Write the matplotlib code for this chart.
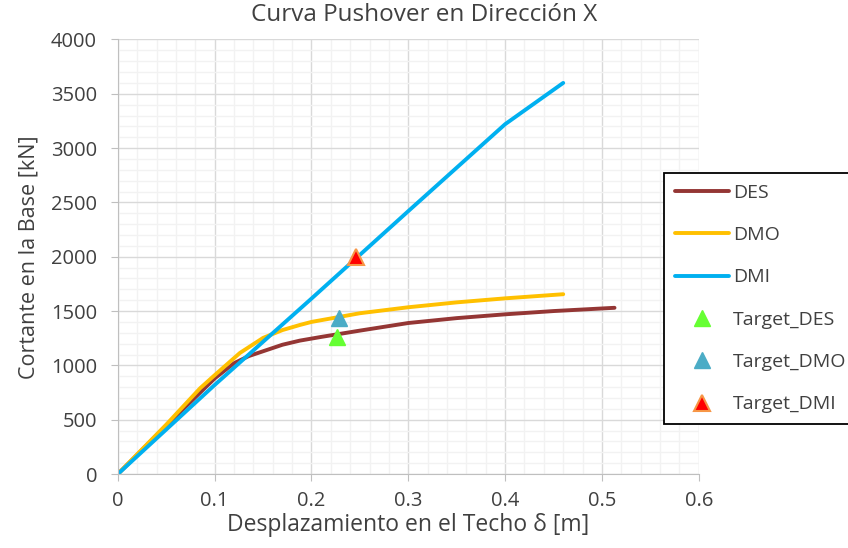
import matplotlib.pyplot as plt
from matplotlib.ticker import MultipleLocator

plt.rcParams['font.family'] = ['Open Sans', 'DejaVu Sans']

# curvas pushover (desplazamiento [m], cortante [kN])
des_x = [0.0, 0.05, 0.1, 0.12, 0.135, 0.154, 0.17, 0.188, 0.21, 0.25, 0.3, 0.35, 0.4, 0.45, 0.513]
des_y = [0, 445, 880, 1020, 1085, 1142, 1190, 1228, 1262, 1320, 1390, 1435, 1470, 1500, 1530]
dmo_x = [0.0, 0.05, 0.085, 0.1, 0.126, 0.15, 0.17, 0.188, 0.2, 0.25, 0.3, 0.35, 0.4, 0.46]
dmo_y = [0, 455, 790, 910, 1114, 1253, 1325, 1372, 1400, 1480, 1535, 1580, 1617, 1655]
dmi_x = [0.0, 0.1, 0.2, 0.3, 0.4, 0.46]
dmi_y = [0, 820, 1615, 2420, 3220, 3600]

# puntos objetivo
tgt_des = (0.226, 1265)
tgt_dmo = (0.228, 1440)
tgt_dmi = (0.246, 2000)

fig = plt.figure(figsize=(8.48, 5.48), dpi=100)
ax = fig.add_axes([0.139, 0.135, 0.685, 0.793])

ax.plot(des_x, des_y, color='#943634', lw=2.8, label='DES', solid_capstyle='round', solid_joinstyle='round')
ax.plot(dmo_x, dmo_y, color='#FFC000', lw=2.8, label='DMO', solid_capstyle='round', solid_joinstyle='round')
ax.plot(dmi_x, dmi_y, color='#00B0F0', lw=2.8, label='DMI', solid_capstyle='round', solid_joinstyle='round')
ax.plot(*tgt_des, '^', color='#66FF33', ms=11.5, mec='#66FF33', ls='none', label='Target_DES')
ax.plot(*tgt_dmo, '^', color='#4BACC6', ms=11.5, mec='#4BACC6', ls='none', label='Target_DMO')
ax.plot(*tgt_dmi, '^', color='#FF0000', ms=11.5, mec='#F79646', mew=1.5, ls='none', label='Target_DMI')

ax.set_xlim(0, 0.6)
ax.set_ylim(0, 4000)
ax.xaxis.set_major_locator(MultipleLocator(0.1))
ax.xaxis.set_minor_locator(MultipleLocator(0.02))
ax.yaxis.set_major_locator(MultipleLocator(500))
ax.yaxis.set_minor_locator(MultipleLocator(100))
ax.set_xticks([0, 0.1, 0.2, 0.3, 0.4, 0.5, 0.6])
ax.set_xticklabels(['0', '0.1', '0.2', '0.3', '0.4', '0.5', '0.6'])
ax.grid(which='major', color='#d9d9d9', lw=1.0)
ax.grid(which='minor', color='#f2f2f2', lw=1.0)
ax.set_axisbelow(True)
for s in ['top', 'right']:
    ax.spines[s].set_visible(False)
for s in ['left', 'bottom']:
    ax.spines[s].set_color('#bfbfbf')
ax.tick_params(which='major', length=5, color='#bfbfbf', labelsize=14.5, labelcolor='#404040')
ax.tick_params(axis='y', pad=10)
ax.tick_params(axis='x', pad=7)
ax.tick_params(which='minor', length=0)

fig.suptitle('Curva Pushover en Dirección X', fontsize=17.5, color='#404040', x=0.5, y=0.995, va='top')
ax.set_xlabel('Desplazamiento en el Techo δ [m]', fontsize=16.5, color='#404040', labelpad=2)
ax.set_ylabel('Cortante en la Base [kN]', fontsize=15.5, color='#404040', labelpad=8)

leg = fig.legend(loc='upper left', bbox_to_anchor=(0.783, 0.684), fontsize=14,
                 frameon=True, fancybox=False, edgecolor='black', framealpha=1,
                 labelspacing=1.25, handlelength=2.8, borderaxespad=0, borderpad=0.55,
                 handletextpad=0.2, labelcolor='#404040')
leg.get_frame().set_linewidth(1.3)

fig.savefig('out.png', dpi=100)
